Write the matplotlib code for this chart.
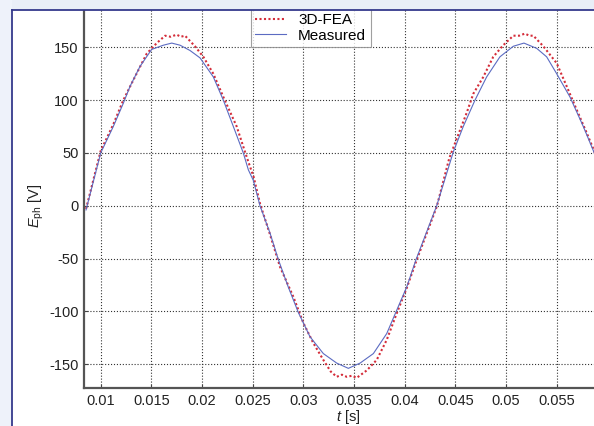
import matplotlib
matplotlib.use("Agg")
import matplotlib.pyplot as plt
from matplotlib.patches import Rectangle
from matplotlib.lines import Line2D

plt.rcParams["font.family"] = ["Liberation Sans", "DejaVu Sans"]
plt.rcParams["axes.unicode_minus"] = False
plt.rcParams["mathtext.fontset"] = "custom"
plt.rcParams["mathtext.rm"] = "Liberation Sans"
plt.rcParams["mathtext.it"] = "Liberation Sans:italic"

# values
t_meas = [0.00855, 0.0100, 0.01124, 0.01223, 0.01289, 0.01388, 0.01503, 0.01618,
          0.01701, 0.01783, 0.01881, 0.0198, 0.02111, 0.0221, 0.02309, 0.02407,
          0.02457, 0.02506, 0.02572, 0.02671, 0.02753, 0.02851, 0.0295, 0.03065,
          0.03197, 0.03329, 0.03444, 0.0356, 0.03691, 0.03823, 0.03921, 0.0402,
          0.04112, 0.04316, 0.0438, 0.0448, 0.04578, 0.04694, 0.04809, 0.0494,
          0.05072, 0.05177, 0.05303, 0.05401, 0.055, 0.05631, 0.05763, 0.05871,
          0.0597, 0.0605]
e_meas = [-4, 50, 75, 97, 113, 132, 148, 152,
          154, 152, 147, 140, 122, 100, 75, 50,
          34, 24, 0, -26, -51, -77, -101, -124,
          -140, -149, -154, -149, -140, -121, -99, -77,
          -51, 0, 20, 51, 75, 100, 122, 141,
          151, 154, 149, 141, 125, 103, 75, 50,
          25, 3]

t_fea = [0.00855, 0.0100, 0.01124, 0.01223, 0.01322, 0.01454, 0.01553, 0.01635,
         0.0169, 0.0175, 0.0179, 0.01832, 0.0193, 0.02013, 0.02111, 0.0221,
         0.02342, 0.02441, 0.0251, 0.02572, 0.0267, 0.0277, 0.0290, 0.0300,
         0.03098, 0.03197, 0.0327, 0.03329, 0.0338, 0.03428, 0.0348, 0.03526,
         0.03625, 0.03724, 0.03823, 0.03921, 0.0402, 0.04112, 0.04316, 0.0444,
         0.0452, 0.04612, 0.04677, 0.04776, 0.04874, 0.04973, 0.05072, 0.0513,
         0.05187, 0.0523, 0.0527, 0.05368, 0.055, 0.05599, 0.05697, 0.05796,
         0.0587, 0.0597, 0.0605]
e_fea = [-3, 52, 77, 100, 119, 144, 154, 161,
         160, 162, 160, 161, 151, 141, 125, 103,
         75, 46, 27, 2, -27, -58, -86, -111,
         -130, -146, -157, -162, -160, -162, -161, -163,
         -156, -146, -127, -102, -78, -53, -1, 45,
         65, 88, 106, 122, 141, 152, 161, 161,
         163, 161, 161, 151, 135, 113, 91, 69,
         52, 22, -2]

x_ticks = [0.01, 0.015, 0.02, 0.025, 0.03, 0.035, 0.04, 0.045, 0.05, 0.055, 0.06]
x_tick_labels = ["0.01", "0.015", "0.02", "0.025", "0.03", "0.035", "0.04",
                 "0.045", "0.05", "0.055", "0.06"]
y_ticks = [-150, -100, -50, 0, 50, 100, 150]

W, H = 594, 426
fig = plt.figure(figsize=(W / 100, H / 100), dpi=100, facecolor="white")

# axes from x=84 to x=612 (past the right edge), y=0 to y=388
ax = fig.add_axes([84 / W, (H - 388) / H, 528 / W, 388 / H])
ax.set_xlim(0.00835, 0.06046)
ax.set_ylim(-172.6, 194.8)

ax.plot(t_fea, e_fea, color="#d42d3a", lw=1.5, linestyle=(0, (1, 1.15)),
        label="3D-FEA", zorder=3)
ax.plot(t_meas, e_meas, color="#5b6bc2", lw=0.8, label="Measured", zorder=4)

ax.set_xticks(x_ticks)
ax.set_xticklabels(x_tick_labels)
ax.set_yticks(y_ticks)
ax.grid(True, color="#333333", linestyle=":", lw=0.8)
ax.set_axisbelow(True)

for s in ["top", "right"]:
    ax.spines[s].set_visible(False)
for s in ["left", "bottom"]:
    ax.spines[s].set_color("#555555")
    ax.spines[s].set_linewidth(1.6)

ax.tick_params(direction="in", length=3, width=0.8, colors="#444444",
               labelsize=10.5, labelcolor="#222222", pad=4)

ax.set_xlabel(r"$\mathit{t}$ [s]", fontsize=10.5, color="#222222")
ax.xaxis.set_label_coords(0.5, -0.052)
ax.set_ylabel(r"$\mathit{E}_{\mathrm{ph}}$ [V]", fontsize=10.5, color="#222222")
ax.yaxis.set_label_coords(-0.072, 0.47)

leg = ax.legend(loc="lower left", bbox_to_anchor=(250.7 / W, 1 - 47.3 / H),
                bbox_transform=fig.transFigure, fontsize=11, frameon=True,
                fancybox=False, edgecolor="#888888", handlelength=2.0,
                handletextpad=0.8, borderpad=0.3, labelspacing=0.12,
                borderaxespad=0)
leg.get_frame().set_linewidth(0.8)

# slide frame around the figure
fig.add_artist(Rectangle((0, 1 - 10 / H), 1, 10 / H, transform=fig.transFigure,
                         facecolor="#e9eef7", edgecolor="none", zorder=10))
fig.add_artist(Rectangle((0, 0), 12 / W, 1, transform=fig.transFigure,
                         facecolor="#eef2fa", edgecolor="none", zorder=10))
fig.add_artist(Line2D([12 / W, 1], [1 - 10 / H, 1 - 10 / H], transform=fig.transFigure,
                      color="#35398c", lw=1.3, zorder=11))
fig.add_artist(Line2D([12 / W, 12 / W], [0, 1 - 10 / H], transform=fig.transFigure,
                      color="#35398c", lw=1.3, zorder=11))

fig.savefig("out.png", dpi=100, facecolor="white")
